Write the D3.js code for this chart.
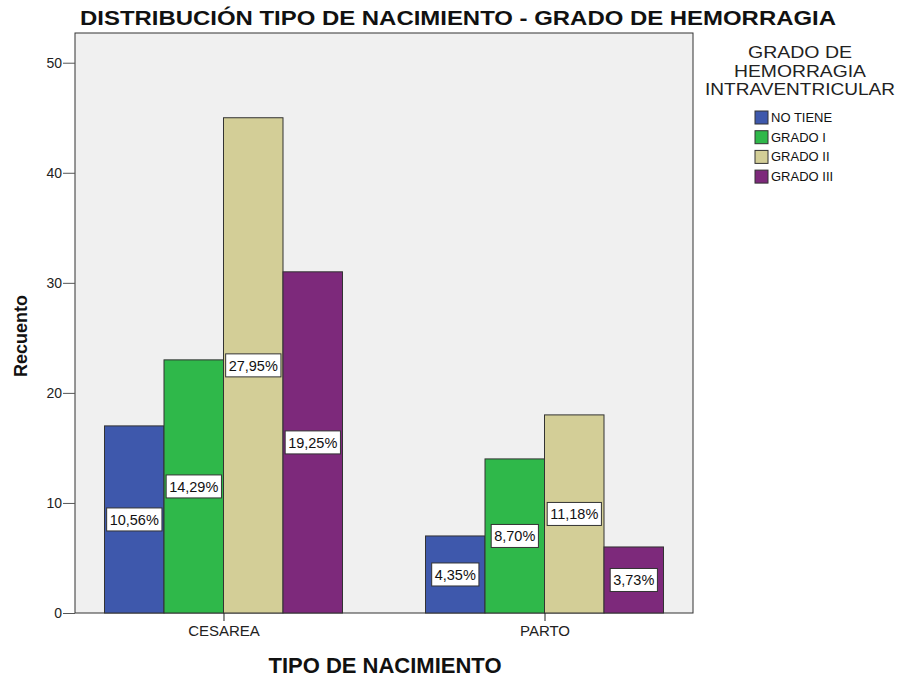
<!DOCTYPE html>
<html>
<head>
<meta charset="utf-8">
<script src="https://cdn.jsdelivr.net/npm/d3@7"></script>
<style>
  body { margin: 0; background: #fff; }
  text { font-family: "Liberation Sans", Arial, sans-serif; }
  .tick text { fill: #222; font-size: 14px; }
  .pct-label { font-size: 14.5px; fill: #111; }
</style>
</head>
<body>
<div id="chart"></div>
<script>
// chart data
var categories = ["CESAREA", "PARTO"];
var grades = ["NO TIENE", "GRADO I", "GRADO II", "GRADO III"];
var gradeColors = ["#3e58ac", "#2fb84a", "#d3ce97", "#7d297b"];
var cesareaCounts = [17, 23, 45, 31];
var partoCounts = [7, 14, 18, 6];
var cesareaPct = ["10,56%", "14,29%", "27,95%", "19,25%"];
var partoPct = ["4,35%", "8,70%", "11,18%", "3,73%"];
var yTicks = [0, 10, 20, 30, 40, 50];
var legendTitle = ["GRADO DE", "HEMORRAGIA", "INTRAVENTRICULAR"];

var rows = [];
[cesareaCounts, partoCounts].forEach(function(counts, ci) {
    var pcts = ci === 0 ? cesareaPct : partoPct;
    counts.forEach(function(v, gi) {
        rows.push({ cat: categories[ci], grade: grades[gi], value: v, pct: pcts[gi] });
    });
});

var W = 899, H = 679;
var margin = { top: 33, right: 206, bottom: 66, left: 75 };
var width = W - margin.left - margin.right,
    height = H - margin.top - margin.bottom;

var svg = d3.select("#chart").append("svg")
    .attr("width", W)
    .attr("height", H);

var g = svg.append("g")
    .attr("transform", "translate(" + margin.left + "," + margin.top + ")");

// plot background
g.append("rect")
    .attr("width", width)
    .attr("height", height)
    .attr("fill", "#f0f0f0")
    .attr("stroke", "#333")
    .attr("stroke-width", 1);

var y = d3.scaleLinear().domain([0, 52.7]).range([height, 0]);
var x = d3.scalePoint().domain(categories).range([0, width]).padding(0.4626);
var xSub = d3.scaleBand().domain(grades).range([-119, 119]).padding(0);
var color = d3.scaleOrdinal().domain(grades).range(gradeColors);

// y axis
var yAxis = g.append("g")
    .call(d3.axisLeft(y).tickValues(yTicks).tickSize(12).tickPadding(1));
yAxis.select(".domain").remove();
yAxis.selectAll(".tick line").attr("stroke", "#555");

// x axis
var xAxis = g.append("g")
    .attr("transform", "translate(0," + height + ")")
    .call(d3.axisBottom(x).tickSize(8).tickPadding(4));
xAxis.select(".domain").remove();
xAxis.selectAll(".tick line").attr("stroke", "#222");
xAxis.selectAll(".tick text").style("font-size", "15px");

// bars
g.append("g").selectAll("rect")
    .data(rows)
    .enter()
    .append("rect")
    .attr("x", function(d) { return x(d.cat) + xSub(d.grade); })
    .attr("y", function(d) { return y(d.value); })
    .attr("width", xSub.bandwidth())
    .attr("height", function(d) { return height - y(d.value); })
    .attr("fill", function(d) { return color(d.grade); })
    .attr("stroke", "#333")
    .attr("stroke-width", 1);

// percentage labels
var labels = g.append("g").selectAll("g")
    .data(rows)
    .enter()
    .append("g")
    .attr("transform", function(d) {
        return "translate(" + (x(d.cat) + xSub(d.grade) + xSub.bandwidth() / 2) + "," + y(d.value / 2) + ")";
    });

labels.append("text")
    .attr("class", "pct-label")
    .attr("text-anchor", "middle")
    .attr("dy", "0.36em")
    .text(function(d) { return d.pct; });

labels.each(function() {
    var grp = d3.select(this);
    var bb = grp.select("text").node().getBBox();
    grp.insert("rect", "text")
        .attr("x", bb.x - 3)
        .attr("y", -11.5)
        .attr("width", bb.width + 6)
        .attr("height", 23)
        .attr("fill", "#fff")
        .attr("stroke", "#333")
        .attr("stroke-width", 1);
});

// title
svg.append("text")
    .attr("x", 458)
    .attr("y", 25)
    .attr("text-anchor", "middle")
    .attr("textLength", 756)
    .attr("lengthAdjust", "spacingAndGlyphs")
    .style("font-size", "20px")
    .style("font-weight", "bold")
    .attr("fill", "#111")
    .text("DISTRIBUCIÓN TIPO DE NACIMIENTO - GRADO DE HEMORRAGIA");

// axis titles
svg.append("text")
    .attr("transform", "translate(27,336) rotate(-90)")
    .attr("text-anchor", "middle")
    .style("font-size", "18px")
    .style("font-weight", "bold")
    .attr("fill", "#111")
    .text("Recuento");

svg.append("text")
    .attr("x", 385)
    .attr("y", 673)
    .attr("text-anchor", "middle")
    .style("font-size", "22px")
    .style("font-weight", "bold")
    .attr("fill", "#111")
    .text("TIPO DE NACIMIENTO");

// legend
var legend = svg.append("g").attr("transform", "translate(755,0)");
var titleWidths = [104, 132, 190];
legendTitle.forEach(function(t, i) {
    legend.append("text")
        .attr("x", 45)
        .attr("y", 58 + i * 18.5)
        .attr("text-anchor", "middle")
        .attr("textLength", titleWidths[i])
        .attr("lengthAdjust", "spacingAndGlyphs")
        .style("font-size", "16px")
        .attr("fill", "#222")
        .text(t);
});

var items = legend.selectAll(".legend-item")
    .data(grades)
    .enter()
    .append("g")
    .attr("class", "legend-item")
    .attr("transform", function(d, i) { return "translate(0," + (111 + i * 19.7) + ")"; });

items.append("rect")
    .attr("width", 13)
    .attr("height", 13)
    .attr("fill", function(d) { return color(d); })
    .attr("stroke", "#333");

items.append("text")
    .attr("x", 16)
    .attr("y", 11)
    .style("font-size", "13px")
    .attr("fill", "#111")
    .text(function(d) { return d; });
</script>
</body>
</html>
